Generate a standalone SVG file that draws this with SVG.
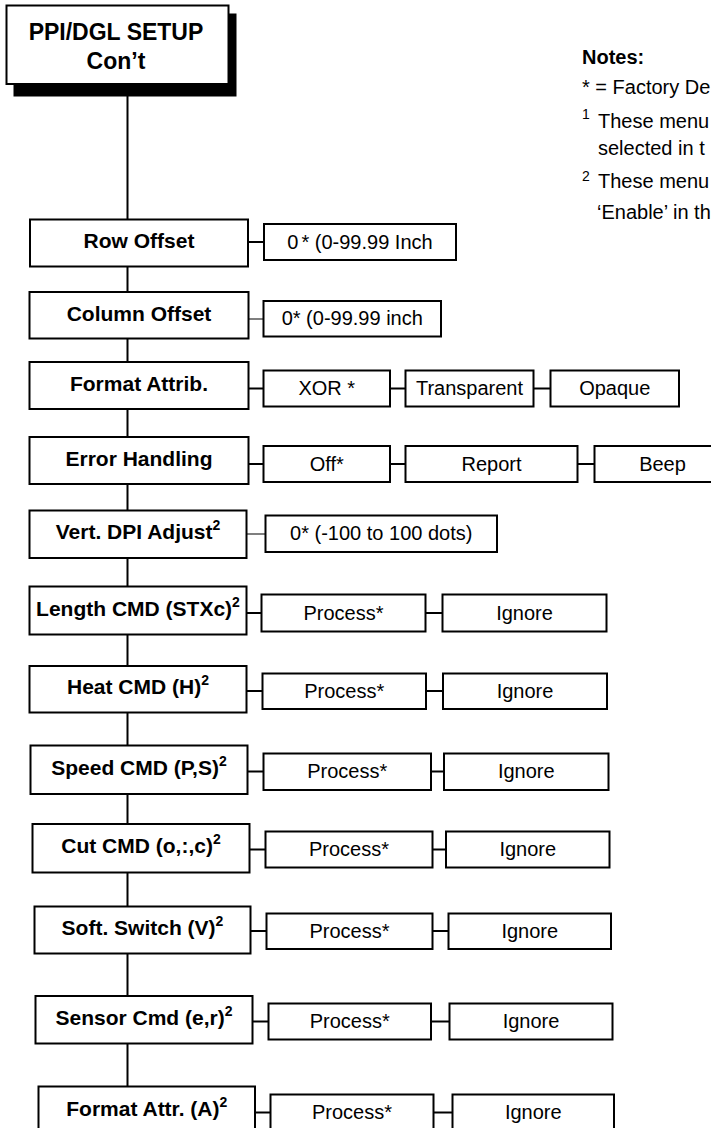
<svg xmlns="http://www.w3.org/2000/svg" width="711" height="1128" viewBox="0 0 711 1128">
<style>
.bx{fill:#fff;stroke:#000;stroke-width:2}
.vb{fill:#fff;stroke:#000;stroke-width:2}
.ln{stroke:#000;stroke-width:2;fill:none}
.lg{stroke:#555;stroke-width:1.5;fill:none}
.mt{font-family:"Liberation Sans",Arial,Helvetica,sans-serif;font-weight:bold;font-size:21px;text-anchor:middle;fill:#000}
.vt{font-family:"Liberation Sans",Arial,Helvetica,sans-serif;font-size:20px;text-anchor:middle;fill:#000}
.sp{font-size:14px}
.nt{font-family:"Liberation Sans",Arial,Helvetica,sans-serif;font-size:20px;fill:#000}
.ns{font-family:"Liberation Sans",Arial,Helvetica,sans-serif;font-size:14px;fill:#000}
</style>
<rect width="711" height="1128" fill="#fff"/>
<g id="connectors">
<line class="ln" x1="127.5" y1="90" x2="127.5" y2="1128"/>
<line class="ln" x1="248" y1="242" x2="264" y2="242"/>
<line class="lg" x1="248.5" y1="319" x2="263.5" y2="319"/>
<line class="ln" x1="248.5" y1="388.5" x2="263.5" y2="388.5"/>
<line class="ln" x1="390" y1="388.5" x2="405.5" y2="388.5"/>
<line class="ln" x1="533.5" y1="388.5" x2="550.5" y2="388.5"/>
<line class="ln" x1="248.5" y1="464" x2="263.5" y2="464"/>
<line class="ln" x1="390" y1="464" x2="405.5" y2="464"/>
<line class="ln" x1="577.5" y1="464" x2="594.5" y2="464"/>
<line class="lg" x1="246.5" y1="534" x2="265.5" y2="534"/>
<line class="ln" x1="246.5" y1="613" x2="261.5" y2="613"/>
<line class="ln" x1="425.5" y1="613" x2="442.5" y2="613"/>
<line class="ln" x1="246.5" y1="691" x2="262.5" y2="691"/>
<line class="ln" x1="426" y1="691" x2="443" y2="691"/>
<line class="ln" x1="247.5" y1="771.5" x2="263.5" y2="771.5"/>
<line class="ln" x1="431" y1="771.5" x2="444" y2="771.5"/>
<line class="ln" x1="249.5" y1="849.5" x2="265.5" y2="849.5"/>
<line class="ln" x1="432.5" y1="849.5" x2="446" y2="849.5"/>
<line class="ln" x1="250.5" y1="931" x2="266.5" y2="931"/>
<line class="ln" x1="432.5" y1="931" x2="448.5" y2="931"/>
<line class="ln" x1="252.5" y1="1021.5" x2="268.5" y2="1021.5"/>
<line class="ln" x1="431" y1="1021.5" x2="449.5" y2="1021.5"/>
<line class="ln" x1="255" y1="1112.5" x2="270.5" y2="1112.5"/>
<line class="ln" x1="433.5" y1="1112.5" x2="452.5" y2="1112.5"/>
</g>
<g id="header">
<rect x="13.5" y="13.5" width="223" height="83" fill="#000"/>
<rect class="bx" x="6.5" y="5.5" width="222" height="78.5"/>
<text class="mt" x="116" y="40" style="font-size:23px">PPI/DGL SETUP</text>
<text class="mt" x="116" y="69" style="font-size:23px">Con’t</text>
</g>
<g id="notes">
<text class="nt" x="582" y="64" font-weight="bold">Notes:</text>
<text class="nt" x="582" y="94">* = Factory De</text>
<text class="ns" x="582" y="119">1</text>
<text class="nt" x="598" y="128">These menu</text>
<text class="nt" x="598" y="155">selected in t</text>
<text class="ns" x="582" y="181">2</text>
<text class="nt" x="598" y="188">These menu</text>
<text class="nt" x="597" y="219">‘Enable’ in th</text>
</g>
<g id="row-offset">
<rect class="bx" x="30" y="219.5" width="218" height="47"/>
<text class="mt" x="139" y="248">Row Offset</text>
<rect class="vb" x="264" y="224" width="192" height="36"/>
<text class="vt" x="360" y="248.5">0<tspan dx="3">* (0-99.99 Inch</tspan></text>
</g>
<g id="column-offset">
<rect class="bx" x="29.5" y="292" width="219" height="46.5"/>
<text class="mt" x="139" y="320.5">Column Offset</text>
<rect class="vb" x="263.5" y="301" width="177.5" height="35.5"/>
<text class="vt" x="352.25" y="325.3">0* (0-99.99 inch</text>
</g>
<g id="format-attrib">
<rect class="bx" x="29.5" y="362" width="219" height="47"/>
<text class="mt" x="139" y="390.5">Format Attrib.</text>
<rect class="vb" x="263.5" y="370.5" width="126.5" height="36"/>
<text class="vt" x="326.75" y="395">XOR *</text>
<rect class="vb" x="405.5" y="370.5" width="128" height="36"/>
<text class="vt" x="469.5" y="395">Transparent</text>
<rect class="vb" x="550.5" y="370.5" width="128.5" height="36"/>
<text class="vt" x="614.75" y="395">Opaque</text>
</g>
<g id="error-handling">
<rect class="bx" x="29.5" y="437" width="219" height="47"/>
<text class="mt" x="139" y="465.5">Error Handling</text>
<rect class="vb" x="263.5" y="446" width="126.5" height="36"/>
<text class="vt" x="326.75" y="470.5">Off*</text>
<rect class="vb" x="405.5" y="446" width="172" height="36"/>
<text class="vt" x="491.5" y="470.5">Report</text>
<rect class="vb" x="594.5" y="446" width="136" height="36"/>
<text class="vt" x="662.5" y="470.5">Beep</text>
</g>
<g id="vert-dpi">
<rect class="bx" x="29.5" y="510.5" width="217" height="47.5"/>
<text class="mt" x="138" y="539.3">Vert. DPI Adjust<tspan class="sp" dy="-9">2</tspan></text>
<rect class="vb" x="265.5" y="515.5" width="231.5" height="36.5"/>
<text class="vt" x="381.25" y="540.3">0* (-100 to 100 dots)</text>
</g>
<g id="length-cmd">
<rect class="bx" x="29.5" y="586.5" width="217" height="48"/>
<text class="mt" x="138" y="615.5">Length CMD (STXc)<tspan class="sp" dy="-9">2</tspan></text>
<rect class="vb" x="261.5" y="594.5" width="164" height="37"/>
<text class="vt" x="343.5" y="619.5">Process*</text>
<rect class="vb" x="442.5" y="594.5" width="164" height="37"/>
<text class="vt" x="524.5" y="619.5">Ignore</text>
</g>
<g id="heat-cmd">
<rect class="bx" x="29.5" y="666" width="217" height="46.5"/>
<text class="mt" x="138" y="694.3">Heat CMD (H)<tspan class="sp" dy="-9">2</tspan></text>
<rect class="vb" x="262.5" y="673.5" width="163.5" height="35.5"/>
<text class="vt" x="344.25" y="697.8">Process*</text>
<rect class="vb" x="443" y="673.5" width="164" height="35.5"/>
<text class="vt" x="525" y="697.8">Ignore</text>
</g>
<g id="speed-cmd">
<rect class="bx" x="30.5" y="745.5" width="217" height="48.5"/>
<text class="mt" x="139" y="774.8">Speed CMD (P,S)<tspan class="sp" dy="-9">2</tspan></text>
<rect class="vb" x="263.5" y="753.5" width="167.5" height="36.5"/>
<text class="vt" x="347.25" y="778.3">Process*</text>
<rect class="vb" x="444" y="753.5" width="164.5" height="36.5"/>
<text class="vt" x="526.25" y="778.3">Ignore</text>
</g>
<g id="cut-cmd">
<rect class="bx" x="32.5" y="824" width="217" height="48.5"/>
<text class="mt" x="141" y="853.3">Cut CMD (o,:,c)<tspan class="sp" dy="-9">2</tspan></text>
<rect class="vb" x="265.5" y="831.5" width="167" height="36"/>
<text class="vt" x="349" y="856">Process*</text>
<rect class="vb" x="446" y="831.5" width="163.5" height="36"/>
<text class="vt" x="527.75" y="856">Ignore</text>
</g>
<g id="soft-switch">
<rect class="bx" x="34.5" y="906.5" width="216" height="47"/>
<text class="mt" x="142.5" y="935">Soft. Switch (V)<tspan class="sp" dy="-9">2</tspan></text>
<rect class="vb" x="266.5" y="913.5" width="166" height="35.5"/>
<text class="vt" x="349.5" y="937.8">Process*</text>
<rect class="vb" x="448.5" y="913.5" width="162.5" height="35.5"/>
<text class="vt" x="529.75" y="937.8">Ignore</text>
</g>
<g id="sensor-cmd">
<rect class="bx" x="35.5" y="996" width="217" height="47.5"/>
<text class="mt" x="144" y="1024.8">Sensor Cmd (e,r)<tspan class="sp" dy="-9">2</tspan></text>
<rect class="vb" x="268.5" y="1003.5" width="162.5" height="36"/>
<text class="vt" x="349.75" y="1028">Process*</text>
<rect class="vb" x="449.5" y="1003.5" width="163" height="36"/>
<text class="vt" x="531" y="1028">Ignore</text>
</g>
<g id="format-attr">
<rect class="bx" x="38.5" y="1086.5" width="216.5" height="48"/>
<text class="mt" x="146.75" y="1115.5">Format Attr. (A)<tspan class="sp" dy="-9">2</tspan></text>
<rect class="vb" x="270.5" y="1094.5" width="163" height="36"/>
<text class="vt" x="352" y="1119">Process*</text>
<rect class="vb" x="452.5" y="1094.5" width="161.5" height="36"/>
<text class="vt" x="533.25" y="1119">Ignore</text>
</g>
</svg>
